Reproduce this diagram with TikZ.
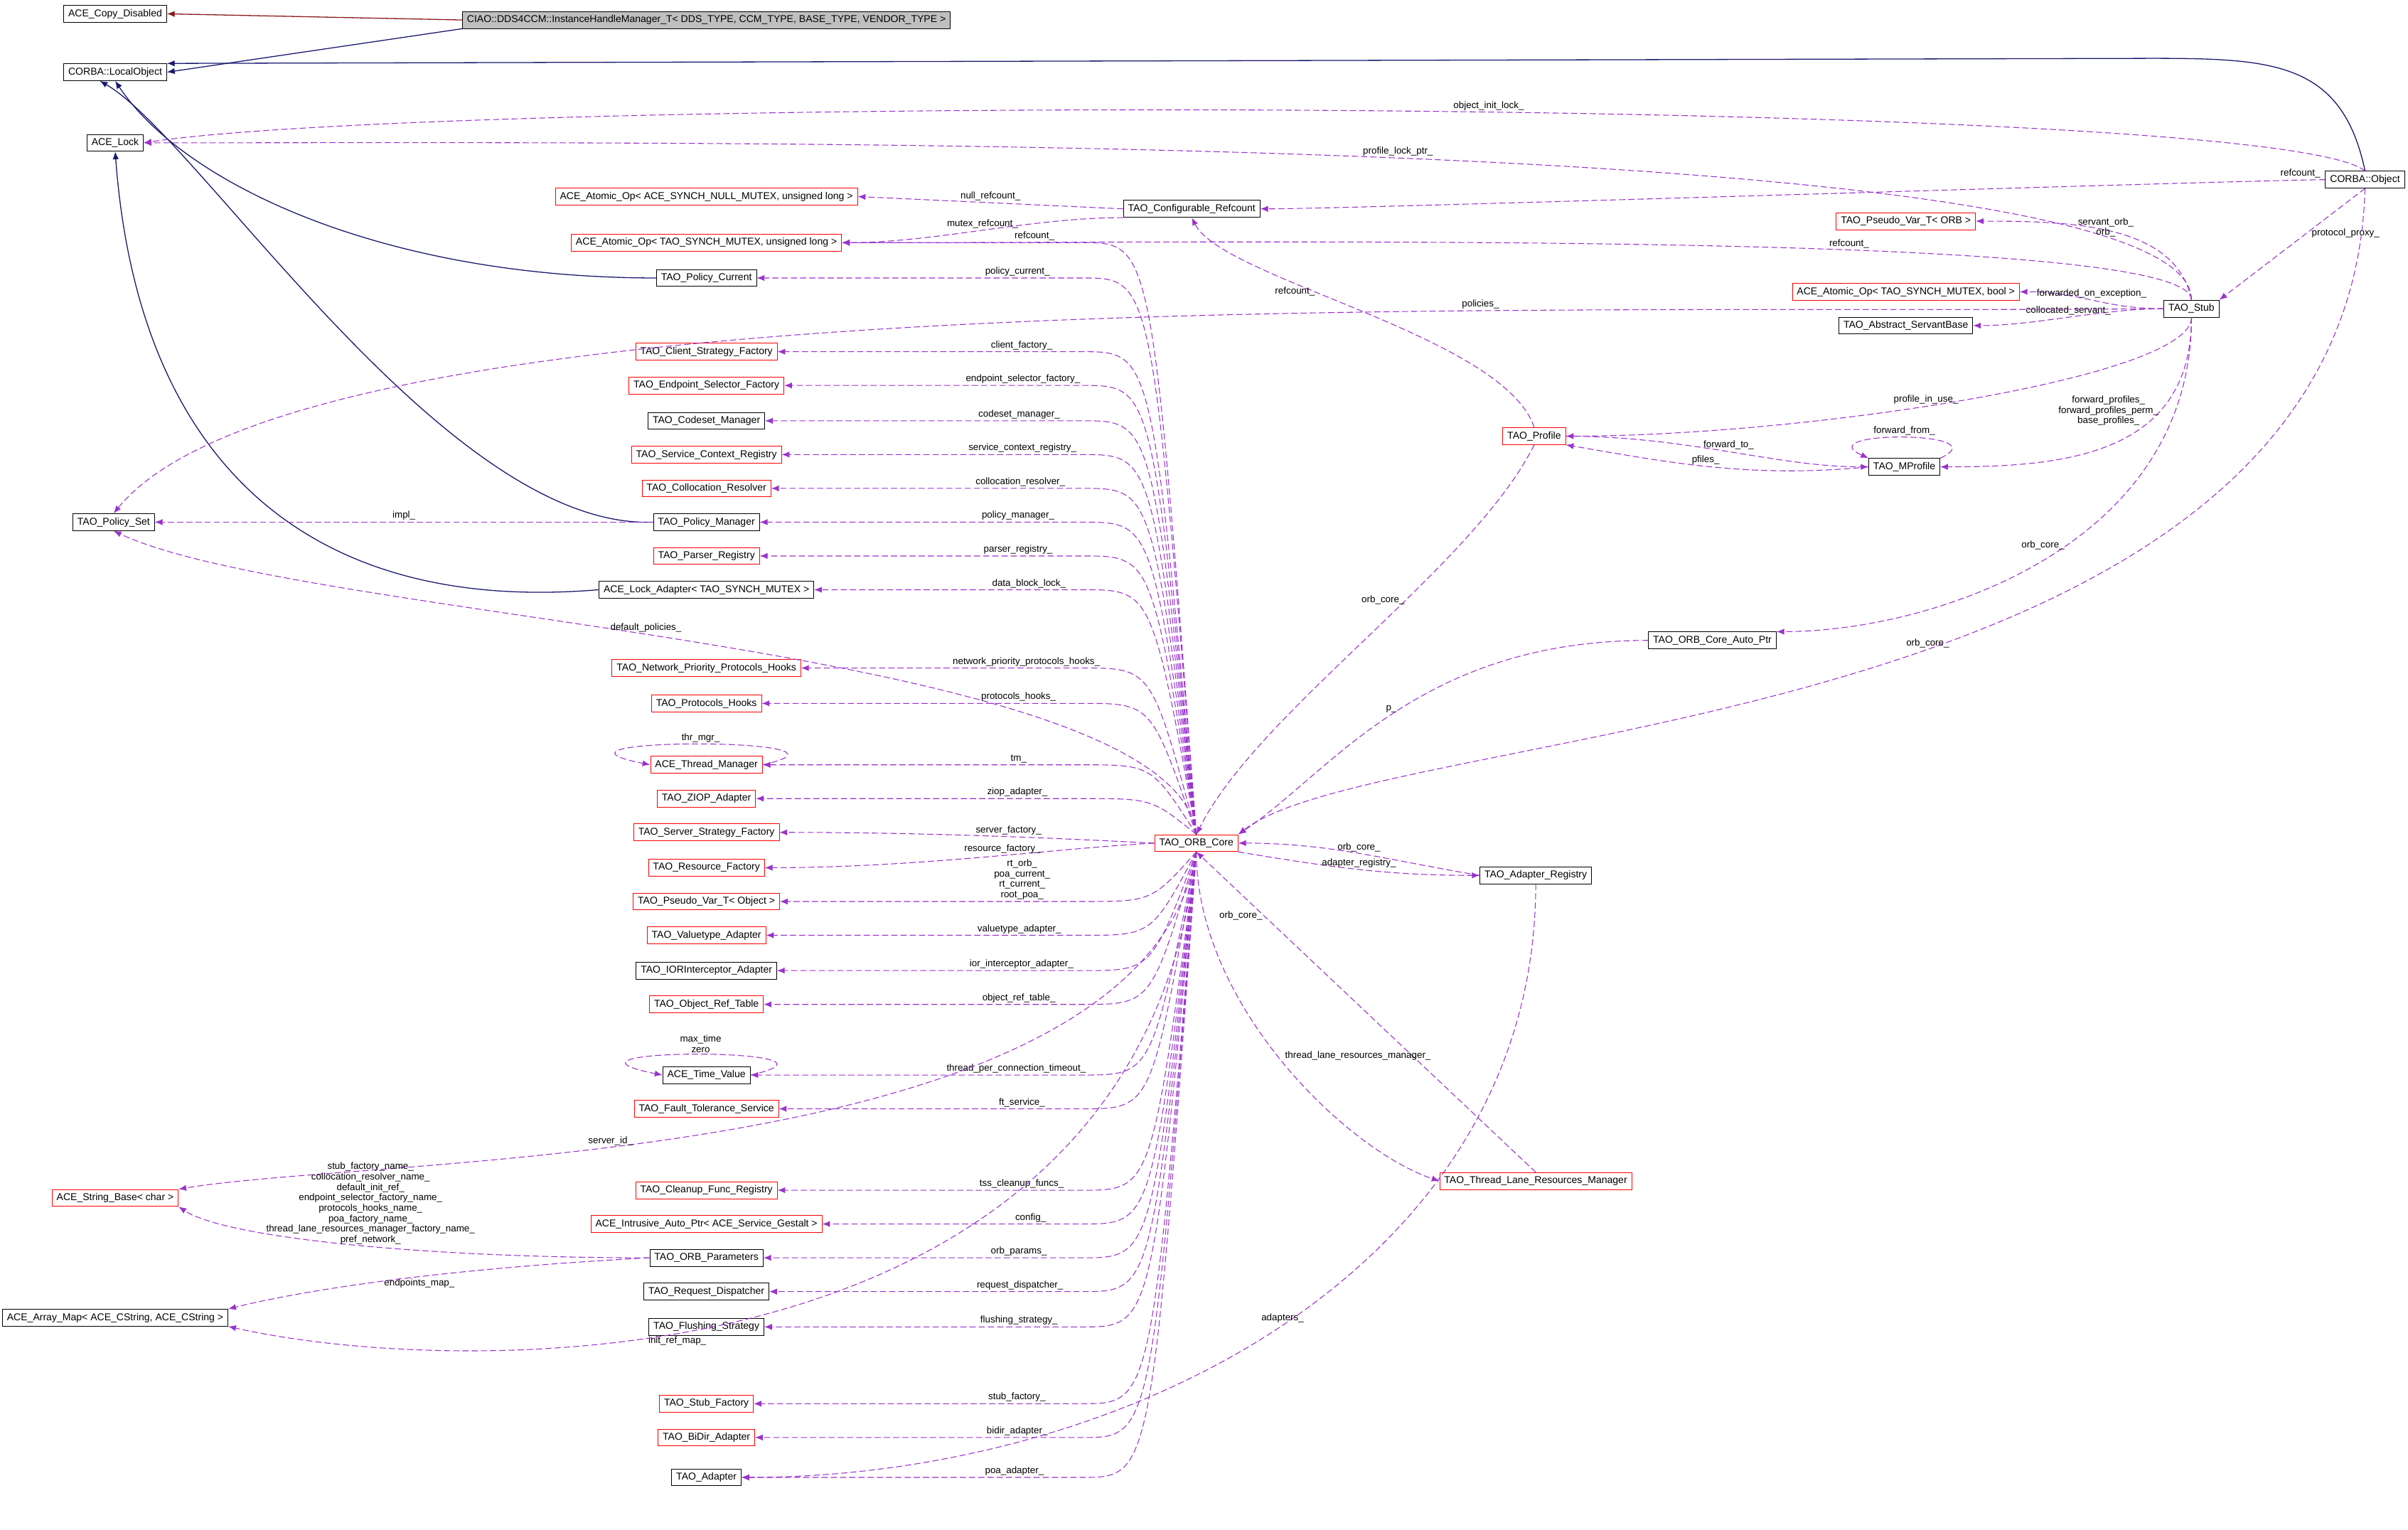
\documentclass[tikz,border=0pt]{standalone}
\usepackage{fontspec}
\setmainfont{Liberation Sans}
\usetikzlibrary{arrows.meta,calc}
\definecolor{usecol}{HTML}{9A32CD}
\definecolor{inhcol}{HTML}{191970}
\definecolor{firecol}{HTML}{8B1A1A}
\definecolor{titlefill}{HTML}{BFBFBF}
\tikzset{
  box/.style={draw, rectangle, inner xsep=3pt, inner ysep=1.5pt, minimum height=11pt, font=\fontsize{6.5}{7.5}\selectfont},
  redbox/.style={box, draw=red},
  use/.style={usecol, dash pattern=on 4pt off 2pt, line width=0.5pt, -{Latex[length=5pt,width=4pt]}},
  inh/.style={inhcol, line width=0.6pt, -{Latex[length=5pt,width=4pt]}},
  lbl/.style={font=\fontsize{6.2}{6.8}\selectfont, inner sep=1pt, align=center, text=black},
}
\begin{document}
\begin{tikzpicture}[x=1pt, y=-1pt]
\useasboundingbox (0,0) rectangle (1568,996);
\coordinate (lx) at (705,0);
% left column
\node[box] (copy) at (75,9) {ACE\_Copy\_Disabled};
\node[box, fill=titlefill] (ciao) at (460,13) {CIAO::DDS4CCM::InstanceHandleManager\_T< DDS\_TYPE, CCM\_TYPE, BASE\_TYPE, VENDOR\_TYPE >};
\node[box] (local) at (75,47) {CORBA::LocalObject};
\node[box] (lock) at (75,93) {ACE\_Lock};
\node[box] (pset) at (74,340) {TAO\_Policy\_Set};
\node[redbox] (sbase) at (75,780) {ACE\_String\_Base< char >};
\node[box] (amap) at (75,858) {ACE\_Array\_Map< ACE\_CString, ACE\_CString >};
% middle column
\node[redbox] (anull) at (460,128) {ACE\_Atomic\_Op< ACE\_SYNCH\_NULL\_MUTEX, unsigned long >};
\node[redbox] (aul) at (460,158) {ACE\_Atomic\_Op< TAO\_SYNCH\_MUTEX, unsigned long >};
\node[box] (pcur) at (460,181) {TAO\_Policy\_Current};
\node[redbox] (client) at (460,229) {TAO\_Client\_Strategy\_Factory};
\node[redbox] (endp) at (460,251) {TAO\_Endpoint\_Selector\_Factory};
\node[box] (codeset) at (460,274) {TAO\_Codeset\_Manager};
\node[redbox] (svcctx) at (460,296) {TAO\_Service\_Context\_Registry};
\node[redbox] (colloc) at (460,318) {TAO\_Collocation\_Resolver};
\node[box] (pm) at (460,340) {TAO\_Policy\_Manager};
\node[redbox] (parser) at (460,362) {TAO\_Parser\_Registry};
\node[box] (lockad) at (460,384) {ACE\_Lock\_Adapter< TAO\_SYNCH\_MUTEX >};
\node[redbox] (netprio) at (460,435) {TAO\_Network\_Priority\_Protocols\_Hooks};
\node[redbox] (prothooks) at (460,458) {TAO\_Protocols\_Hooks};
\node[redbox] (tm) at (460,498) {ACE\_Thread\_Manager};
\node[redbox] (ziop) at (460,520) {TAO\_ZIOP\_Adapter};
\node[redbox] (sstrat) at (460,542) {TAO\_Server\_Strategy\_Factory};
\node[redbox] (resf) at (460,565) {TAO\_Resource\_Factory};
\node[redbox] (pvobj) at (460,587) {TAO\_Pseudo\_Var\_T< Object >};
\node[redbox] (valuet) at (460,609) {TAO\_Valuetype\_Adapter};
\node[box] (ior) at (460,632) {TAO\_IORInterceptor\_Adapter};
\node[redbox] (objref) at (460,654) {TAO\_Object\_Ref\_Table};
\node[box] (tval) at (460,700) {ACE\_Time\_Value};
\node[redbox] (ft) at (460,722) {TAO\_Fault\_Tolerance\_Service};
\node[redbox] (cleanup) at (460,775) {TAO\_Cleanup\_Func\_Registry};
\node[redbox] (intr) at (460,797) {ACE\_Intrusive\_Auto\_Ptr< ACE\_Service\_Gestalt >};
\node[box] (op) at (460,819) {TAO\_ORB\_Parameters};
\node[box] (reqd) at (460,841) {TAO\_Request\_Dispatcher};
\node[box] (flush) at (460,864) {TAO\_Flushing\_Strategy};
\node[redbox] (stubf) at (460,914) {TAO\_Stub\_Factory};
\node[redbox] (bidir) at (460,936) {TAO\_BiDir\_Adapter};
\node[box] (adapter) at (460,962) {TAO\_Adapter};
% right part
\node[box] (refc) at (776,136) {TAO\_Configurable\_Refcount};
\node[redbox] (core) at (779,549) {TAO\_ORB\_Core};
\node[redbox] (prof) at (999,284) {TAO\_Profile};
\node[box] (mprof) at (1240,304) {TAO\_MProfile};
\node[box] (autoptr) at (1115,417) {TAO\_ORB\_Core\_Auto\_Ptr};
\node[box] (areg) at (1000,570) {TAO\_Adapter\_Registry};
\node[redbox] (tl) at (1000,769) {TAO\_Thread\_Lane\_Resources\_Manager};
\node[redbox] (pvorb) at (1241,144) {TAO\_Pseudo\_Var\_T< ORB >};
\node[redbox] (abool) at (1241,190) {ACE\_Atomic\_Op< TAO\_SYNCH\_MUTEX, bool >};
\node[box] (asb) at (1241,212) {TAO\_Abstract\_ServantBase};
\node[box] (stub) at (1427,201) {TAO\_Stub};
\node[box] (obj) at (1540,117) {CORBA::Object};

% inheritance
\draw[firecol, line width=0.6pt, -{Latex[length=5pt,width=4pt]}] (ciao.west) -- (copy.east);
\draw[inh] (ciao.south west) -- (local.east);
\draw[inh] (obj.north) .. controls (1525,40) and (1480,38) .. (1400,38) -- (local.north east);
\draw[inh] (pcur.west) .. controls (250,181) and (120,120) .. (local.south);
\draw[inh] (pm.west) .. controls (290,345) and (130,90) .. ($(local.south)+(-10,0)$);
\draw[inh] (lockad.west) .. controls (200,400) and (90,300) .. (lock.south);

% ORB core members above
\foreach \t/\l in {aul/refcount\_, pcur/policy\_current\_, client/client\_factory\_, endp/endpoint\_selector\_factory\_,
  codeset/codeset\_manager\_, svcctx/service\_context\_registry\_, colloc/collocation\_resolver\_, pm/policy\_manager\_,
  parser/parser\_registry\_, lockad/data\_block\_lock\_, netprio/network\_priority\_protocols\_hooks\_,
  prothooks/protocols\_hooks\_, tm/tm\_, ziop/ziop\_adapter\_}
  \draw[use] (core.north) .. controls ($(\t.east -| lx)+(45,0)$) .. (\t.east -| lx) -- node[lbl, pos=0.2, above] {\l} (\t.east);
% ORB core members below
\foreach \t/\l in {pvobj/{rt\_orb\_\\poa\_current\_\\rt\_current\_\\root\_poa\_}, valuet/valuetype\_adapter\_,
  ior/ior\_interceptor\_adapter\_, objref/object\_ref\_table\_, tval/thread\_per\_connection\_timeout\_,
  ft/ft\_service\_, cleanup/tss\_cleanup\_funcs\_, intr/config\_, op/orb\_params\_, reqd/request\_dispatcher\_,
  flush/flushing\_strategy\_, stubf/stub\_factory\_, bidir/bidir\_adapter\_, adapter/poa\_adapter\_}
  \draw[use] (core.south) .. controls ($(\t.east -| lx)+(45,0)$) .. (\t.east -| lx) -- node[lbl, pos=0.2, above] {\l} (\t.east);
\draw[use] (core.west) .. controls +(-60,-3) and +(100,0) .. node[lbl, pos=0.45, above] {server\_factory\_} (sstrat.east);
\draw[use] (core.west) .. controls +(-60,3) and +(100,0) .. node[lbl, pos=0.45, above] {resource\_factory\_} (resf.east);
\draw[use] (core.north) .. controls (765,420) and (200,405) .. node[lbl, pos=0.55, above] {default\_policies\_} (pset.south);
\draw[use] (core.south) .. controls (745,762) and (250,752) .. node[lbl, pos=0.6, above] {server\_id\_} (sbase.north east);
\draw[use] (core.south) .. controls (740,905) and (300,898) .. node[lbl, pos=0.58, below=1pt] {init\_ref\_map\_} (amap.south east);
\draw[use] (tm.east) .. controls +(80,-18) and +(-90,-18) .. node[lbl, pos=0.5, above] {thr\_mgr\_} (tm.west);
\draw[use] (tval.east) .. controls +(80,-18) and +(-90,-18) .. node[lbl, pos=0.5, above] {max\_time\\zero} (tval.west);

% refcount, lock, stub
\draw[use] (refc.west) -- node[lbl, pos=0.5, above] {null\_refcount\_} (anull.east);
\draw[use] (refc.south west) .. controls +(-60,0) and +(60,0) .. node[lbl, pos=0.5, above] {mutex\_refcount\_} (aul.east);
\draw[use] (obj.north) .. controls (1480,62) and (300,62) .. node[lbl, pos=0.45, above] {object\_init\_lock\_} (lock.east);
\draw[use] (stub.north) .. controls +(0,-110) and +(400,0) .. node[lbl, pos=0.5, above] {profile\_lock\_ptr\_} (lock.east);
\draw[use] (obj.west) .. controls +(-40,0) and +(60,0) .. node[lbl, pos=0.07, above] {refcount\_} (refc.east);
\draw[use] (obj.south) -- node[lbl, pos=0.4, right=2pt] {protocol\_proxy\_} (stub.north east);
\draw[use] (obj.south) .. controls (1530,480) and (900,470) .. node[lbl, pos=0.45, above] {orb\_core\_} (core.north east);
\draw[use] (stub.north) .. controls +(0,-45) and +(300,0) .. node[lbl, pos=0.4, above] {refcount\_} (aul.east);
\draw[use] (stub.north) .. controls +(-10,-50) and +(60,0) .. node[lbl, pos=0.4, above left] {servant\_orb\_\\orb\_} (pvorb.east);
\draw[use] (stub.west) .. controls +(-40,0) and +(40,0) .. node[lbl, pos=0.5, above] {forwarded\_on\_exception\_} (abool.east);
\draw[use] (stub.west) .. controls +(-40,0) and +(40,0) .. node[lbl, pos=0.5, above] {collocated\_servant\_} (asb.east);
\draw[use] (stub.west) .. controls (1000,205) and (200,180) .. node[lbl, pos=0.3, above] {policies\_} (pset.north);
\draw[use] (stub.south) .. controls +(0,40) and +(150,0) .. node[lbl, pos=0.55, above] {profile\_in\_use\_} (prof.east);
\draw[use] (stub.south) .. controls +(0,90) and +(80,0) .. node[lbl, pos=0.3, left] {forward\_profiles\_\\forward\_profiles\_perm\_\\base\_profiles\_} (mprof.east);
\draw[use] (stub.south) .. controls +(0,150) and +(100,0) .. node[lbl, pos=0.45, left] {orb\_core\_} (autoptr.north east);

% profiles
\draw[use] (prof.north) .. controls +(-20,-60) and +(20,40) .. node[lbl, pos=0.6, left] {refcount\_} (refc.south);
\draw[use] (prof.south) .. controls +(-40,80) and +(40,-80) .. node[lbl, pos=0.4, left] {orb\_core\_} (core.north);
\draw[use] (prof.east) .. controls +(80,0) and +(-60,0) .. node[lbl, pos=0.5, above] {forward\_to\_} (mprof.west);
\draw[use] (mprof.west) .. controls +(-80,8) and +(60,10) .. node[lbl, pos=0.5, above] {pfiles\_} (prof.south east);
\draw[use] (mprof.north east) .. controls +(40,-18) and +(-40,-18) .. node[lbl, pos=0.5, above] {forward\_from\_} (mprof.north west);
\draw[use] (pm.west) -- node[lbl, pos=0.5, above] {impl\_} (pset.east);

% core helpers
\draw[use] (autoptr.west) .. controls +(-150,0) and +(60,-40) .. node[lbl, pos=0.5, above] {p\_} (core.north east);
\draw[use] (areg.west) .. controls +(-60,-10) and +(60,0) .. node[lbl, pos=0.5, above] {orb\_core\_} (core.east);
\draw[use] (core.south east) .. controls +(60,10) and +(-60,0) .. node[lbl, pos=0.5, above] {adapter\_registry\_} (areg.west);
\draw[use] (areg.south) .. controls +(0,250) and +(250,0) .. node[lbl, pos=0.5, above] {adapters\_} (adapter.east);
\draw[use] (tl.north) -- node[lbl, pos=0.8, left] {orb\_core\_} (core.south);
\draw[use] (core.south) .. controls +(0,100) and +(-60,-20) .. node[lbl, pos=0.5, above right] {thread\_lane\_resources\_manager\_} (tl.west);

% orb parameters
\draw[use] (op.west) .. controls +(-150,0) and +(30,20) .. node[lbl, pos=0.45, above] {stub\_factory\_name\_\\collocation\_resolver\_name\_\\default\_init\_ref\_\\endpoint\_selector\_factory\_name\_\\protocols\_hooks\_name\_\\poa\_factory\_name\_\\thread\_lane\_resources\_manager\_factory\_name\_\\pref\_network\_} (sbase.south east);
\draw[use] (op.west) .. controls +(-150,8) and +(40,-10) .. node[lbl, pos=0.4, below] {endpoints\_map\_} (amap.north east);
\end{tikzpicture}
\end{document}
